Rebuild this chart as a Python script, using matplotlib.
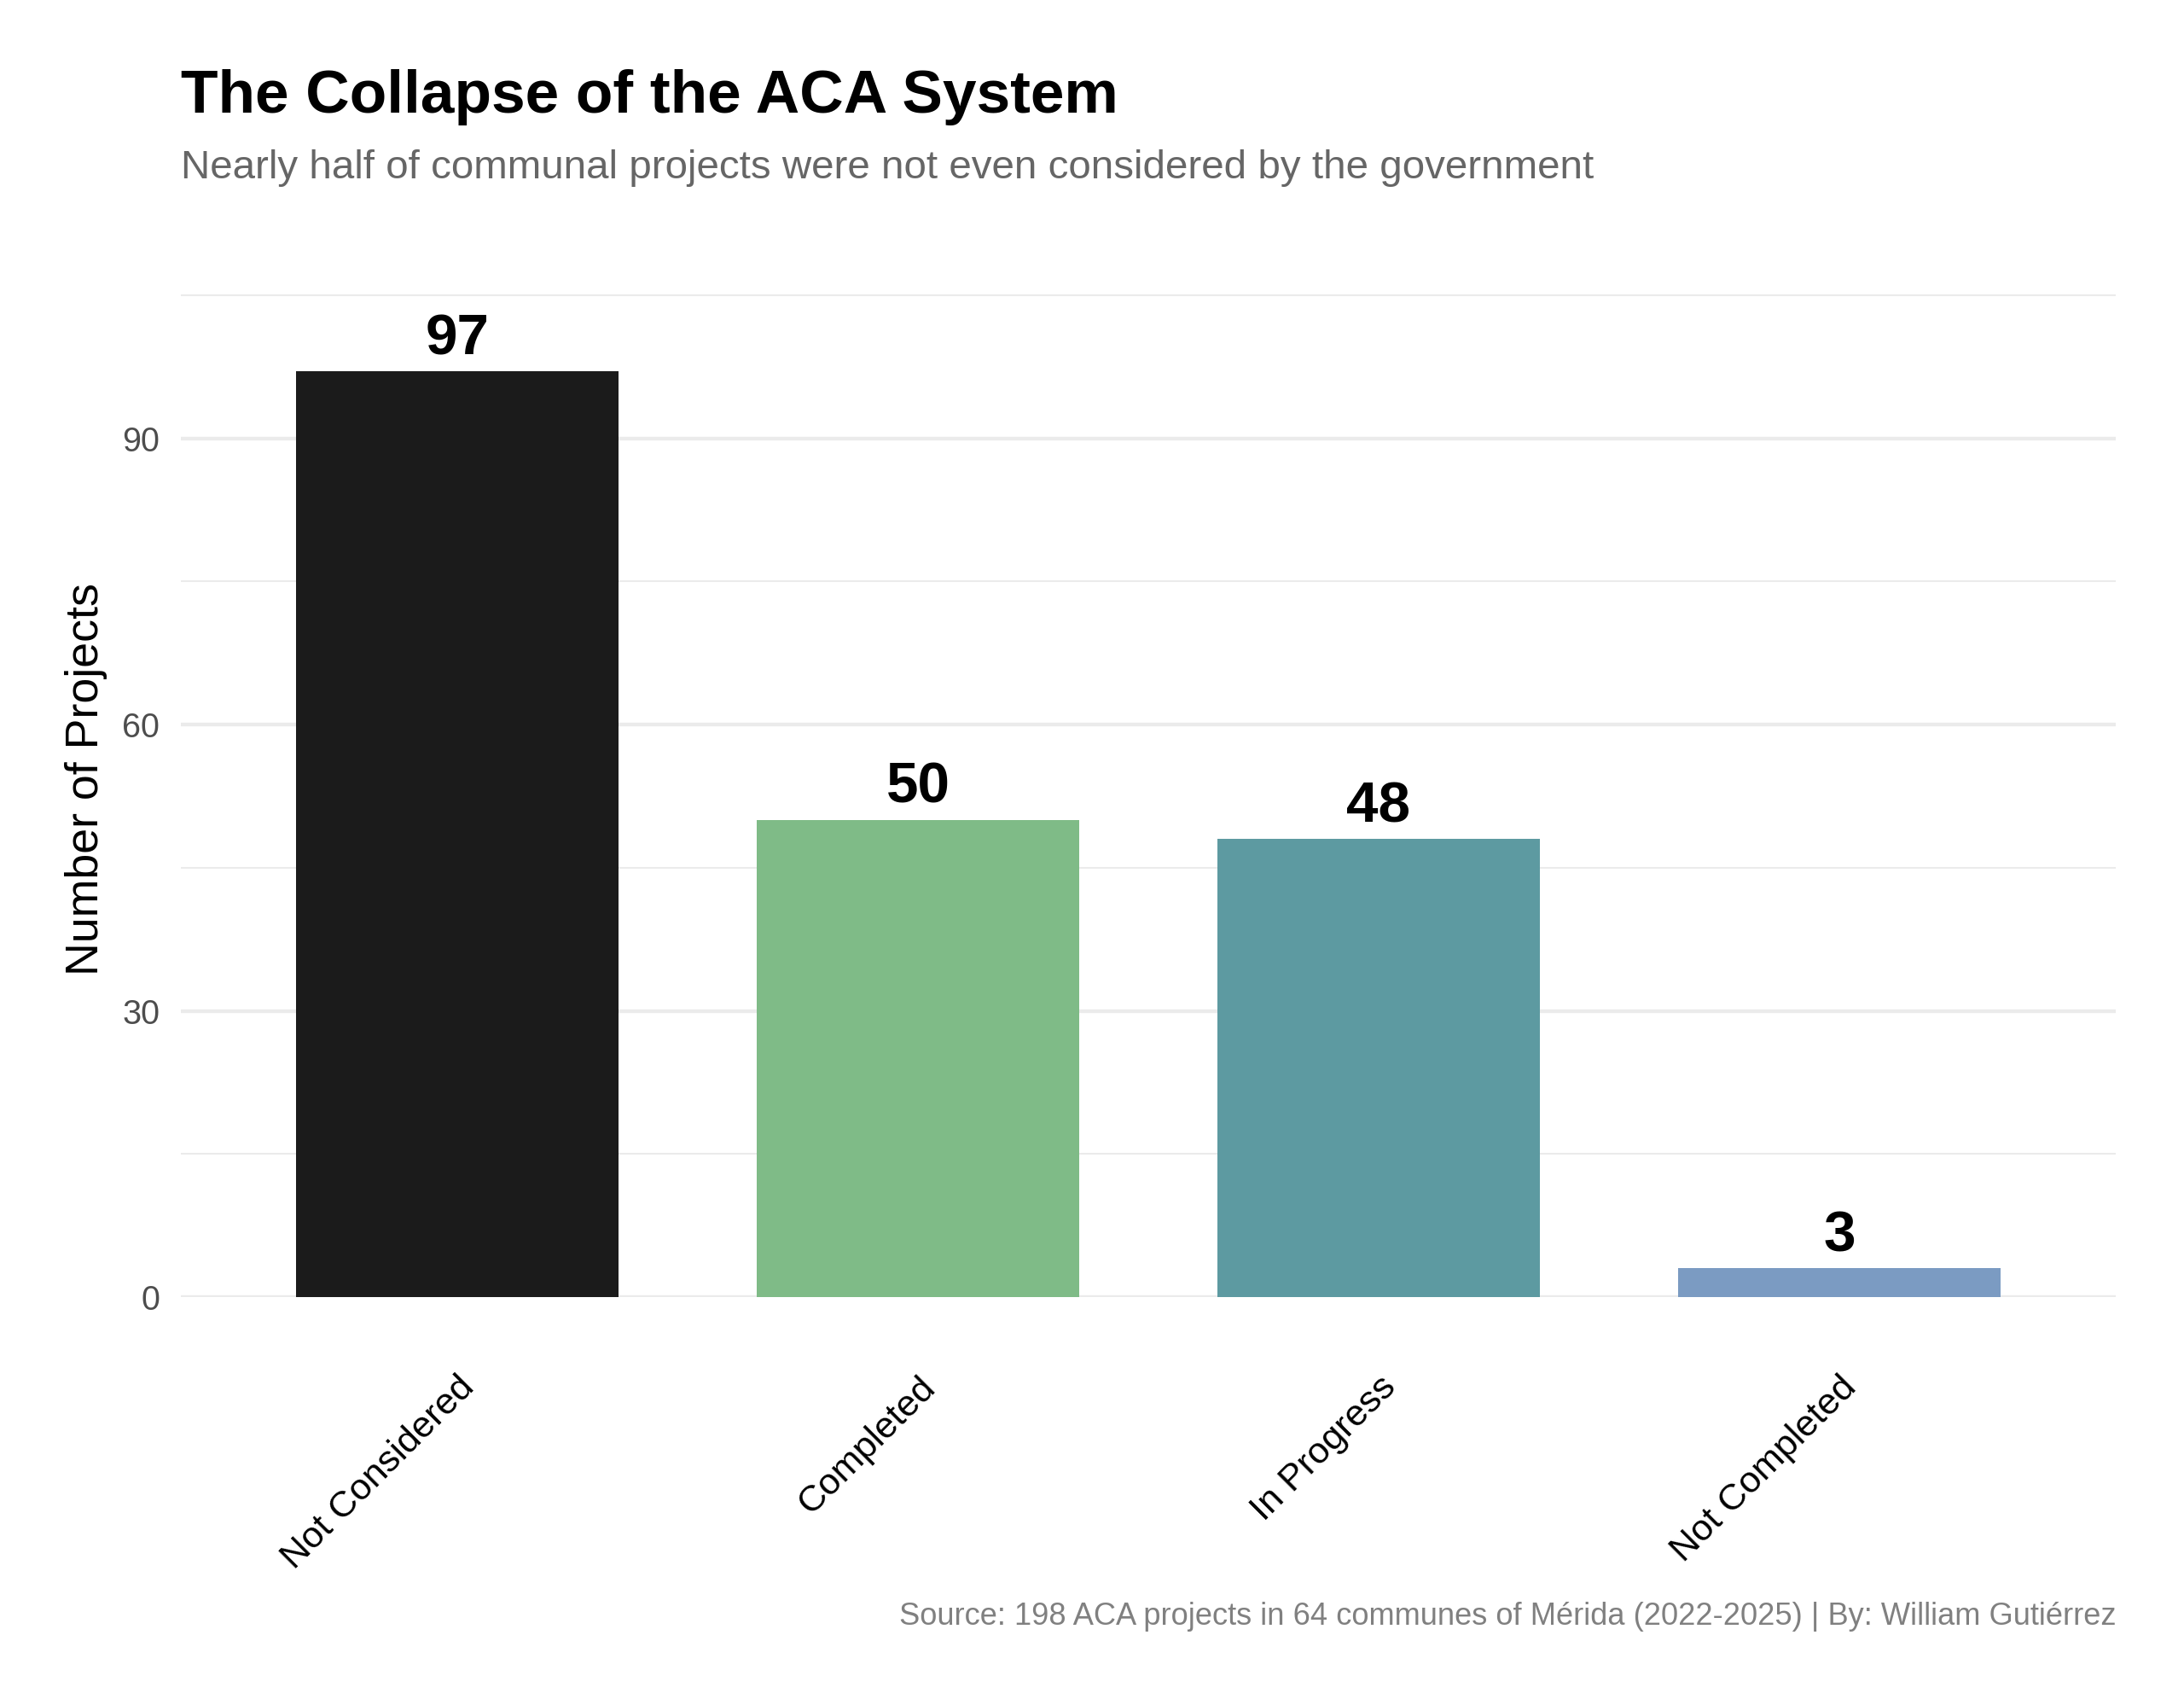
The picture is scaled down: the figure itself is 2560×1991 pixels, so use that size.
import matplotlib.pyplot as plt
import numpy as np

# --- Dados ---
categorias = ['Not Considered', 'Completed', 'In Progress', 'Not Completed']
projetos = [97, 50, 48, 3]
cores = ['#1B1B1B', '#7FBB87', '#5D9AA1', '#7B9BC2']
y_ticks = [0, 30, 60, 90]
y_minor = [15, 45, 75, 105]

plt.rcParams['font.family'] = ['Liberation Sans', 'DejaVu Sans']

W, H = 2560, 1991
fig = plt.figure(figsize=(W / 300, H / 300), dpi=300)
# painel: x de 212 a 2480 px, y de 327 a 1520 px
ax = fig.add_axes([212 / W, 1 - 1520 / H, (2480 - 212) / W, (1520 - 327) / H])

x = np.arange(1, len(categorias) + 1)
ax.bar(x, projetos, width=0.7, color=cores, zorder=2)

# rótulos em cima das barras
for xi, v in zip(x, projetos):
    ax.annotate(str(v), (xi, v), xytext=(0, 4.8), textcoords='offset points',
                ha='center', va='baseline', fontsize=16.2, fontweight='bold', color='black')

ax.set_xlim(0.4, 4.6)
ax.set_ylim(0, 106.7)
ax.set_yticks(y_ticks)
ax.set_yticks(y_minor, minor=True)
ax.set_xticks(x)
ax.set_xticklabels(categorias, rotation=45, ha='right', rotation_mode='anchor',
                   fontsize=10.4, color='black')
ax.tick_params(axis='x', length=0, pad=20.5)
ax.tick_params(axis='y', which='both', length=0, pad=6, labelsize=9.5, labelcolor='#4D4D4D')

ax.grid(axis='y', which='major', color='#EBEBEB', linewidth=1.05, zorder=0)
ax.grid(axis='y', which='minor', color='#EBEBEB', linewidth=0.5, zorder=0)
ax.grid(axis='x', visible=False)
for s in ax.spines.values():
    s.set_visible(False)

# rótulo do eixo y
fig.text(101 / W, 1 - 913 / H, 'Number of Projects', rotation=90,
         fontsize=12.9, color='black', ha='center', va='center')

# título, subtítulo e fonte
fig.text(212 / W, 1 - 132 / H, 'The Collapse of the ACA System',
         fontsize=17.1, fontweight='bold', color='black', ha='left', va='baseline')
fig.text(212 / W, 1 - 209 / H, 'Nearly half of communal projects were not even considered by the government',
         fontsize=11.4, color='#666666', ha='left', va='baseline')
fig.text(2480 / W, 1 - 1904 / H,
         'Source: 198 ACA projects in 64 communes of Mérida (2022-2025) | By: William Gutiérrez',
         fontsize=8.7, color='#808080', ha='right', va='baseline')

plt.savefig('out.png', dpi=300)
